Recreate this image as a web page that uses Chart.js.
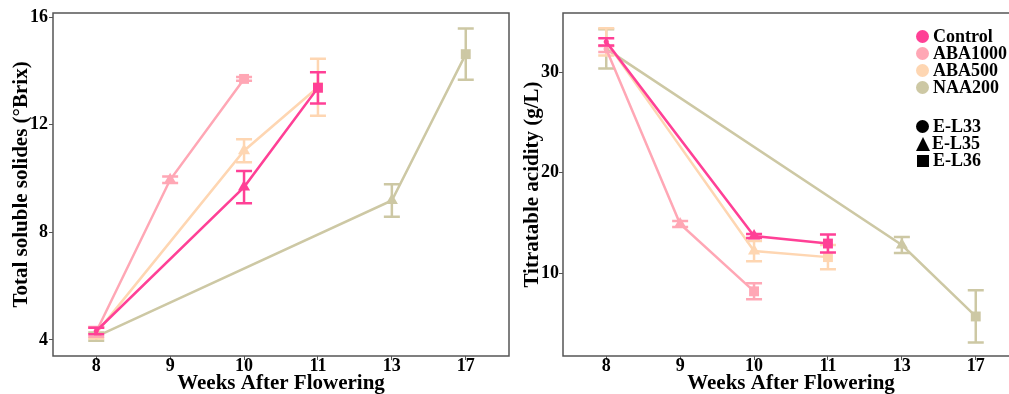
<!DOCTYPE html>
<html lang="en">
<head>
    <meta charset="UTF-8">
    <title>Total soluble solids and titratable acidity</title>
    <script src="https://cdn.jsdelivr.net/npm/chart.js"></script>
    <style>
        html, body {
            margin: 0;
            padding: 0;
            background: #ffffff;
            overflow: hidden;
        }

        body {
            position: relative;
            width: 1009px;
            height: 394px;
            font-family: 'Liberation Serif', 'Times New Roman', serif;
        }

        .panel {
            position: absolute;
            top: 0;
            height: 394px;
        }

        #brixPanel { left: 0; width: 520px; }
        #acidPanel { left: 505px; width: 525px; }

        #legend {
            position: absolute;
            left: 916px;
            top: 28px;
            font-weight: bold;
            font-size: 18px;
            color: #000;
        }

        #legend .row {
            height: 17px;
            line-height: 17px;
            display: flex;
            align-items: center;
            white-space: nowrap;
        }

        #legend .gap { height: 22px; }

        #legend .mark {
            display: inline-block;
            width: 13px;
            height: 13px;
            margin-right: 4px;
            flex: none;
        }

        #legend .circle { border-radius: 50%; }
        #legend .triangle {
            width: 0;
            height: 0;
            border-left: 7.5px solid transparent;
            border-right: 7.5px solid transparent;
            border-bottom: 14px solid #000;
            margin-right: 2px;
        }
        #legend .square { width: 12px; height: 12px; margin-left: 1px; }
    </style>
</head>
<body>
    <div class="panel" id="brixPanel"><canvas id="brixChart"></canvas></div>
    <div class="panel" id="acidPanel"><canvas id="acidChart"></canvas></div>
    <div id="legend"></div>

    <script>
        // categories (weeks after flowering), equally spaced on the axis
        const weeks = [8, 9, 10, 11, 13, 17];
        const treatments = ['Control', 'ABA1000', 'ABA500', 'NAA200'];
        const colors = ['#ff4096', '#ffa7b5', '#fed6b2', '#cdc8a4'];
        const stages = ['E-L33', 'E-L35', 'E-L36'];
        const stageShapes = ['circle', 'triangle', 'rect'];

        // sampling week of each stage per treatment
        const controlWeeks = [8, 10, 11];
        const aba1000Weeks = [8, 9, 10];
        const aba500Weeks = [8, 10, 11];
        const naa200Weeks = [8, 13, 17];

        // total soluble solids (°Brix), mean and error
        const brixControl = [4.33, 9.68, 13.37];
        const brixControlErr = [0.12, 0.6, 0.58];
        const brixAba1000 = [4.3, 9.95, 13.7];
        const brixAba1000Err = [0.18, 0.12, 0.07];
        const brixAba500 = [4.25, 11.03, 13.39];
        const brixAba500Err = [0.2, 0.43, 1.06];
        const brixNaa200 = [4.12, 9.18, 14.62];
        const brixNaa200Err = [0.15, 0.6, 0.95];

        // titratable acidity (g/L), mean and error
        const acidControl = [33.0, 13.7, 12.95];
        const acidControlErr = [0.35, 0.2, 0.9];
        const acidAba1000 = [32.3, 14.9, 8.2];
        const acidAba1000Err = [0.3, 0.3, 0.8];
        const acidAba500 = [33.0, 12.2, 11.6];
        const acidAba500Err = [1.35, 1.0, 1.2];
        const acidNaa200 = [32.3, 12.8, 5.7];
        const acidNaa200Err = [1.95, 0.8, 2.6];

        const brixTicks = [4, 8, 12, 16];
        const acidTicks = [10, 20, 30];

        const treatmentWeeks = [controlWeeks, aba1000Weeks, aba500Weeks, naa200Weeks];

        const tickFont = { family: "'Liberation Serif', serif", size: 18, weight: 'bold' };
        const titleFont = { family: "'Liberation Serif', serif", size: 21, weight: 'bold' };

        function buildDatasets(means, errs) {
            return treatments.map((name, t) => ({
                label: name,
                data: treatmentWeeks[t].map((w, i) => ({ x: weeks.indexOf(w), y: means[t][i] })),
                err: errs[t],
                borderColor: colors[t],
                backgroundColor: colors[t],
                pointBackgroundColor: colors[t],
                pointStyle: stageShapes,
                pointRadius: [2.5, 7, 7],
                pointBorderWidth: 0,
                borderWidth: 2.5,
                tension: 0
            }));
        }

        // vertical error bars with caps, drawn through the y scale
        const errorBars = {
            id: 'errorBars',
            afterDatasetDraw(chart, args) {
                const ds = chart.data.datasets[args.index];
                const ctx = chart.ctx;
                const yScale = chart.scales.y;
                ctx.save();
                ctx.strokeStyle = ds.borderColor;
                ctx.lineWidth = 2.5;
                args.meta.data.forEach((pt, i) => {
                    const v = ds.data[i].y;
                    const e = ds.err[i];
                    const top = yScale.getPixelForValue(v + e);
                    const bot = yScale.getPixelForValue(v - e);
                    ctx.beginPath();
                    ctx.moveTo(pt.x, top);
                    ctx.lineTo(pt.x, bot);
                    ctx.moveTo(pt.x - 8, top);
                    ctx.lineTo(pt.x + 8, top);
                    ctx.moveTo(pt.x - 8, bot);
                    ctx.lineTo(pt.x + 8, bot);
                    ctx.stroke();
                });
                ctx.restore();
            }
        };

        // box around the plot area
        const frame = {
            id: 'frame',
            beforeDatasetsDraw(chart) {
                const { ctx, chartArea: a } = chart;
                ctx.save();
                ctx.strokeStyle = '#555555';
                ctx.lineWidth = 1.5;
                ctx.strokeRect(a.left, a.top, a.right - a.left, a.bottom - a.top);
                ctx.restore();
            }
        };

        function makeOptions(cfg) {
            return {
                responsive: true,
                maintainAspectRatio: false,
                animation: false,
                layout: { padding: { top: cfg.padTop, right: 11, bottom: 0, left: 0 } },
                plugins: { legend: { display: false }, tooltip: { enabled: false } },
                scales: {
                    x: {
                        type: 'linear',
                        min: -0.585,
                        max: 5.585,
                        afterBuildTicks: s => { s.ticks = weeks.map((w, i) => ({ value: i })); },
                        afterFit: s => { s.height = 38; },
                        ticks: { callback: v => weeks[v], font: tickFont, color: '#000', padding: -4 },
                        grid: { drawOnChartArea: false, tickLength: 4, color: '#555' },
                        border: { display: false },
                        title: {
                            display: true,
                            text: 'Weeks After Flowering',
                            font: titleFont,
                            color: '#000',
                            padding: { top: 0, bottom: -2 }
                        }
                    },
                    y: {
                        type: 'linear',
                        min: cfg.yMin,
                        max: cfg.yMax,
                        afterBuildTicks: s => { s.ticks = cfg.yTicks.map(v => ({ value: v })); },
                        afterFit: s => { s.width = cfg.yWidth; },
                        ticks: { font: tickFont, color: '#000', padding: cfg.tickPad },
                        grid: { drawOnChartArea: false, tickLength: 4, color: '#555' },
                        border: { display: false },
                        title: {
                            display: true,
                            text: cfg.yTitle,
                            font: titleFont,
                            color: '#000',
                            padding: { top: cfg.titlePad, bottom: 0 }
                        }
                    }
                }
            };
        }

        new Chart(document.getElementById('brixChart'), {
            type: 'line',
            data: {
                datasets: buildDatasets(
                    [brixControl, brixAba1000, brixAba500, brixNaa200],
                    [brixControlErr, brixAba1000Err, brixAba500Err, brixNaa200Err]
                )
            },
            options: makeOptions({
                yMin: 3.4, yMax: 16.15, yTicks: brixTicks, yWidth: 53, tickPad: 1,
                titlePad: 9, padTop: 13, yTitle: 'Total soluble solides (°Brix)'
            }),
            plugins: [frame, errorBars]
        });

        new Chart(document.getElementById('acidChart'), {
            type: 'line',
            data: {
                datasets: buildDatasets(
                    [acidControl, acidAba1000, acidAba500, acidNaa200],
                    [acidControlErr, acidAba1000Err, acidAba500Err, acidNaa200Err]
                )
            },
            options: makeOptions({
                yMin: 1.77, yMax: 35.87, yTicks: acidTicks, yWidth: 58, tickPad: 0,
                titlePad: 15, padTop: 13, yTitle: 'Titratable acidity (g/L)'
            }),
            plugins: [frame, errorBars]
        });

        // legend: treatment colours, then stage shapes
        const legend = document.getElementById('legend');
        treatments.forEach((name, t) => {
            const row = document.createElement('div');
            row.className = 'row';
            row.innerHTML = `<span class="mark circle" style="background:${colors[t]}"></span>${name}`;
            legend.appendChild(row);
        });
        const gap = document.createElement('div');
        gap.className = 'gap';
        legend.appendChild(gap);
        const shapeClass = ['circle', 'triangle', 'square'];
        stages.forEach((stage, i) => {
            const row = document.createElement('div');
            row.className = 'row';
            const bg = shapeClass[i] === 'triangle' ? '' : 'background:#000';
            row.innerHTML = `<span class="mark ${shapeClass[i]}" style="${bg}"></span>${stage}`;
            legend.appendChild(row);
        });
    </script>
</body>
</html>
